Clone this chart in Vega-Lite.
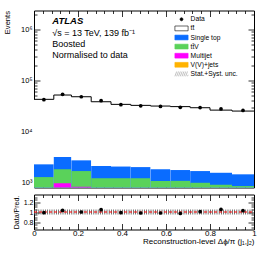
{
  "$schema": "https://vega.github.io/schema/vega-lite/v6.json",
  "padding": {"left": 2, "top": 9.5, "right": 0, "bottom": 0},
  "spacing": 5,
  "config": {
    "font": "Liberation Sans",
    "view": {"stroke": "black", "strokeWidth": 1},
    "axis": {"domain": false, "grid": false, "tickColor": "black", "labelColor": "black", "titleColor": "black", "labelFont": "Liberation Sans", "titleFont": "Liberation Sans", "titleFontWeight": "normal", "labelFlush": false, "labelOverlap": false, "tickWidth": 0.8},
    "legend": {"labelFont": "Liberation Sans", "labelColor": "black"}
  },
  "datasets": {
    "bins": [
      {"lo": 0.0, "hi": 0.09, "mid": 0.045, "tt̄": 42800, "Single top": 2275, "tt̄V": 1280, "Multijet": 700, "V(V)+jets": 300, "data": 42200, "ratio": 0.986},
      {"lo": 0.09, "hi": 0.17, "mid": 0.13, "tt̄": 52000, "Single top": 3160, "tt̄V": 1815, "Multijet": 965, "V(V)+jets": 400, "data": 53700, "ratio": 1.032},
      {"lo": 0.17, "hi": 0.26, "mid": 0.215, "tt̄": 48100, "Single top": 2725, "tt̄V": 1680, "Multijet": 827, "V(V)+jets": 350, "data": 48100, "ratio": 1.0},
      {"lo": 0.26, "hi": 0.35, "mid": 0.305, "tt̄": 38400, "Single top": 2110, "tt̄V": 1215, "Multijet": 600, "V(V)+jets": 300, "data": 40200, "ratio": 1.046},
      {"lo": 0.35, "hi": 0.44, "mid": 0.395, "tt̄": 34100, "Single top": 2060, "tt̄V": 1215, "Multijet": 550, "V(V)+jets": 280, "data": 33600, "ratio": 0.986},
      {"lo": 0.44, "hi": 0.53, "mid": 0.485, "tt̄": 32600, "Single top": 2010, "tt̄V": 1215, "Multijet": 500, "V(V)+jets": 260, "data": 31900, "ratio": 0.98},
      {"lo": 0.53, "hi": 0.62, "mid": 0.575, "tt̄": 31600, "Single top": 1815, "tt̄V": 1070, "Multijet": 450, "V(V)+jets": 240, "data": 31000, "ratio": 0.98},
      {"lo": 0.62, "hi": 0.71, "mid": 0.665, "tt̄": 30800, "Single top": 1760, "tt̄V": 1080, "Multijet": 420, "V(V)+jets": 230, "data": 29900, "ratio": 0.972},
      {"lo": 0.71, "hi": 0.8, "mid": 0.755, "tt̄": 29300, "Single top": 1680, "tt̄V": 990, "Multijet": 400, "V(V)+jets": 220, "data": 29500, "ratio": 1.006},
      {"lo": 0.8, "hi": 0.9, "mid": 0.85, "tt̄": 26300, "Single top": 1555, "tt̄V": 906, "Multijet": 380, "V(V)+jets": 210, "data": 27700, "ratio": 1.052},
      {"lo": 0.9, "hi": 1.0, "mid": 0.95, "tt̄": 25200, "Single top": 1450, "tt̄V": 854, "Multijet": 360, "V(V)+jets": 200, "data": 25900, "ratio": 1.026}
    ],
    "legend": [
      {"comp": "Data"}, {"comp": "tt̄"}, {"comp": "Single top"}, {"comp": "tt̄V"}, {"comp": "Multijet"}, {"comp": "V(V)+jets"}, {"comp": "Stat.+Syst. unc."}
    ],
    "decades": [
      {"v": 1000, "t": "10³"}, {"v": 10000, "t": "10⁴"}, {"v": 100000, "t": "10⁵"}, {"v": 1000000, "t": "10⁶"}
    ]
  },
  "vconcat": [
    {
      "width": 220,
      "height": 177,
      "data": {"name": "bins"},
      "resolve": {"axis": {"x": "independent", "y": "independent"}},
      "layer": [
        {
          "transform": [{"fold": ["tt̄", "Single top", "tt̄V", "Multijet", "V(V)+jets"], "as": ["comp", "value"]}],
          "mark": {"type": "rect"},
          "encoding": {
            "x": {"field": "lo", "type": "quantitative", "scale": {"domain": [0, 1], "nice": false, "zero": false},
              "axis": {"orient": "bottom", "labels": false, "title": null, "values": [0,0.2,0.4,0.6,0.8,1], "tickSize": -6}},
            "x2": {"field": "hi"},
            "y": {"field": "value", "type": "quantitative", "scale": {"type": "log", "domain": [800, 2360000], "nice": false, "clamp": true},
              "axis": {"orient": "left", "title": "Events", "titleAnchor": "end", "titleFontSize": 7.6, "titlePadding": 22.5, "labels": false,
                "values": [1000,10000,100000,1000000], "tickSize": -6}},
            "y2": {"datum": 1},
            "fill": {"field": "comp", "type": "nominal",
              "scale": {"domain": ["Data", "tt̄", "Single top", "tt̄V", "Multijet", "V(V)+jets", "Stat.+Syst. unc."], "range": ["black", "white", "#0a6cff", "#5ad25a", "#ff00ff", "#ffb300", "transparent"]}}
          }
        },
        {
          "mark": {"type": "rule", "color": "black", "strokeWidth": 1},
          "encoding": {
            "x": {"field": "lo", "type": "quantitative",
              "axis": {"orient": "top", "labels": false, "title": null, "values": [0,0.2,0.4,0.6,0.8,1], "tickSize": -6}},
            "x2": {"field": "hi"},
            "y": {"field": "tt̄", "type": "quantitative",
              "axis": {"orient": "right", "labels": false, "title": null, "values": [1000,10000,100000,1000000], "tickSize": -6}}
          }
        },
        {
          "transform": [{"window": [{"op": "lead", "field": "tt̄", "as": "next"}], "sort": [{"field": "lo"}]}, {"filter": "datum.next != null"}],
          "mark": {"type": "rule", "color": "black", "strokeWidth": 1},
          "encoding": {
            "x": {"field": "hi", "type": "quantitative",
              "axis": {"orient": "bottom", "labels": false, "title": null, "values": [0.04,0.08,0.12,0.16,0.24,0.28,0.32,0.36,0.44,0.48,0.52,0.56,0.64,0.68,0.72,0.76,0.84,0.88,0.92,0.96], "tickSize": -3}},
            "y": {"field": "tt̄", "type": "quantitative",
              "axis": {"orient": "left", "labels": false, "title": null, "values": [2000,3000,4000,5000,6000,7000,8000,9000,20000,30000,40000,50000,60000,70000,80000,90000,200000,300000,400000,500000,600000,700000,800000,900000,2000000], "tickSize": -3}},
            "y2": {"field": "next"}
          }
        },
        {
          "mark": {"type": "point", "filled": true, "color": "black", "opacity": 1, "size": 14},
          "encoding": {
            "x": {"field": "mid", "type": "quantitative",
              "axis": {"orient": "top", "labels": false, "title": null, "values": [0.04,0.08,0.12,0.16,0.24,0.28,0.32,0.36,0.44,0.48,0.52,0.56,0.64,0.68,0.72,0.76,0.84,0.88,0.92,0.96], "tickSize": -3}},
            "y": {"field": "data", "type": "quantitative",
              "axis": {"orient": "right", "labels": false, "title": null, "values": [2000,3000,4000,5000,6000,7000,8000,9000,20000,30000,40000,50000,60000,70000,80000,90000,200000,300000,400000,500000,600000,700000,800000,900000,2000000], "tickSize": -3}}
          }
        },
        {
          "data": {"name": "decades"},
          "mark": {"type": "text", "fontSize": 7.5, "align": "right", "baseline": "middle", "dx": -1.5, "color": "black"},
          "encoding": {
            "x": {"datum": 0, "type": "quantitative", "axis": null},
            "y": {"field": "v", "type": "quantitative", "axis": null},
            "text": {"field": "t"}
          }
        },
        {
          "data": {"values": [{}]},
          "mark": {"type": "text", "text": "ATLAS", "fontStyle": "italic", "fontWeight": "bold", "fontSize": 9.5, "align": "left", "baseline": "alphabetic"},
          "encoding": {
            "x": {"datum": 0.083, "type": "quantitative", "axis": null},
            "y": {"datum": 1265000, "type": "quantitative", "axis": null}
          }
        },
        {
          "data": {"values": [{}]},
          "mark": {"type": "text", "text": ["√s = 13 TeV, 139 fb⁻¹", "Boosted", "Normalised to data"], "fontSize": 9, "lineHeight": 10.9, "align": "left", "baseline": "alphabetic"},
          "encoding": {
            "x": {"datum": 0.083, "type": "quantitative", "axis": null},
            "y": {"datum": 746000, "type": "quantitative", "axis": null}
          }
        },
        {
          "data": {"name": "legend"},
          "mark": {"type": "point", "filled": true, "opacity": 1, "strokeWidth": 0.6},
          "encoding": {
            "x": {"field": "nx", "type": "quantitative", "axis": null},
            "y": {"field": "ny", "type": "quantitative", "axis": null},
            "shape": {"field": "comp", "type": "nominal",
              "scale": {"domain": ["Data", "tt̄", "Single top", "tt̄V", "Multijet", "V(V)+jets", "Stat.+Syst. unc."],
                "range": ["M-0.5,0A0.5,0.5,0,1,1,0.5,0A0.5,0.5,0,1,1,-0.5,0Z", "M-2.2,-0.8H2.2V0.8H-2.2Z", "M-2.2,-0.8H2.2V0.8H-2.2Z", "M-2.2,-0.8H2.2V0.8H-2.2Z", "M-2.2,-0.8H2.2V0.8H-2.2Z", "M-2.2,-0.8H2.2V0.8H-2.2Z", "M-2.2,0.8L-1.6,-0.8M-1.6,0.8L-1,-0.8M-1,0.8L-0.4,-0.8M-0.4,0.8L0.2,-0.8M0.2,0.8L0.8,-0.8M0.8,0.8L1.4,-0.8M1.4,0.8L2,-0.8M2,0.8L2.2,0.3"]},
              "legend": {"orient": "none", "legendX": 144, "legendY": 5.3, "title": null, "padding": 0, "symbolSize": 36, "labelFontSize": 6.7, "labelOffset": 5.6, "rowPadding": 0.1, "symbolOpacity": 1, "symbolStrokeWidth": 0.6}},
            "fill": {"field": "comp", "type": "nominal",
              "scale": {"domain": ["Data", "tt̄", "Single top", "tt̄V", "Multijet", "V(V)+jets", "Stat.+Syst. unc."], "range": ["black", "white", "#0a6cff", "#5ad25a", "#ff00ff", "#ffb300", "transparent"]},
              "legend": {"orient": "none", "legendX": 144, "legendY": 5.3, "title": null, "padding": 0, "symbolSize": 36, "labelFontSize": 6.7, "labelOffset": 5.6, "rowPadding": 0.1, "symbolOpacity": 1, "symbolStrokeWidth": 0.6}},
            "stroke": {"field": "comp", "type": "nominal",
              "scale": {"domain": ["Data", "tt̄", "Single top", "tt̄V", "Multijet", "V(V)+jets", "Stat.+Syst. unc."], "range": ["black", "black", "#0a6cff", "#5ad25a", "#ff00ff", "#ffb300", "#999999"]},
              "legend": {"orient": "none", "legendX": 144, "legendY": 5.3, "title": null, "padding": 0, "symbolSize": 36, "labelFontSize": 6.7, "labelOffset": 5.6, "rowPadding": 0.1, "symbolOpacity": 1, "symbolStrokeWidth": 0.6}}
          }
        }
      ]
    },
    {
      "width": 220,
      "height": 35,
      "data": {"name": "bins"},
      "resolve": {"axis": {"x": "independent", "y": "independent"}},
      "layer": [
        {
          "data": {"values": [{}]},
          "mark": {"type": "rule", "color": "#555555", "strokeWidth": 5, "strokeDash": [0.8, 1.4]},
          "encoding": {
            "x": {"datum": 0, "type": "quantitative", "scale": {"domain": [0, 1], "nice": false, "zero": false},
              "axis": {"orient": "bottom", "title": "Reconstruction-level Δϕ/π (j₁,j₂)", "titleAnchor": "end", "titleFontSize": 8, "titlePadding": 0, "labelFontSize": 8, "labelPadding": 6, "format": ".1~f",
                "values": [0,0.2,0.4,0.6,0.8,1], "tickSize": -6}},
            "x2": {"datum": 1},
            "y": {"datum": 1, "type": "quantitative", "scale": {"domain": [0.65, 1.35], "nice": false, "zero": false},
              "axis": {"orient": "left", "title": "Data/Pred.", "titleFontSize": 7, "titlePadding": 4, "labelFontSize": 7, "labelPadding": 7,
                "values": [0.8,1,1.2], "format": "~g", "tickSize": -6}}
          }
        },
        {
          "data": {"values": [{}]},
          "mark": {"type": "rule", "color": "#ff0000", "strokeWidth": 1, "strokeDash": [3, 2]},
          "encoding": {
            "x": {"datum": 0, "type": "quantitative",
              "axis": {"orient": "top", "labels": false, "title": null, "values": [0,0.2,0.4,0.6,0.8,1], "tickSize": -6}},
            "x2": {"datum": 1},
            "y": {"datum": 1, "type": "quantitative",
              "axis": {"orient": "right", "labels": false, "title": null, "values": [0.8,1,1.2], "tickSize": -6}}
          }
        },
        {
          "mark": {"type": "point", "filled": true, "color": "black", "opacity": 1, "size": 14},
          "encoding": {
            "x": {"field": "mid", "type": "quantitative",
              "axis": {"orient": "bottom", "labels": false, "title": null, "values": [0.04,0.08,0.12,0.16,0.24,0.28,0.32,0.36,0.44,0.48,0.52,0.56,0.64,0.68,0.72,0.76,0.84,0.88,0.92,0.96], "tickSize": -3}},
            "y": {"field": "ratio", "type": "quantitative",
              "axis": {"orient": "left", "labels": false, "title": null, "values": [0.7,0.75,0.85,0.9,0.95,1.05,1.1,1.15,1.25,1.3], "tickSize": -3}}
          }
        },
        {
          "data": {"values": []},
          "mark": {"type": "rule"},
          "encoding": {
            "x": {"field": "mid", "type": "quantitative",
              "axis": {"orient": "top", "labels": false, "title": null, "values": [0.04,0.08,0.12,0.16,0.24,0.28,0.32,0.36,0.44,0.48,0.52,0.56,0.64,0.68,0.72,0.76,0.84,0.88,0.92,0.96], "tickSize": -3}},
            "y": {"field": "ratio", "type": "quantitative",
              "axis": {"orient": "right", "labels": false, "title": null, "values": [0.7,0.75,0.85,0.9,0.95,1.05,1.1,1.15,1.25,1.3], "tickSize": -3}}
          }
        }
      ]
    }
  ]
}
